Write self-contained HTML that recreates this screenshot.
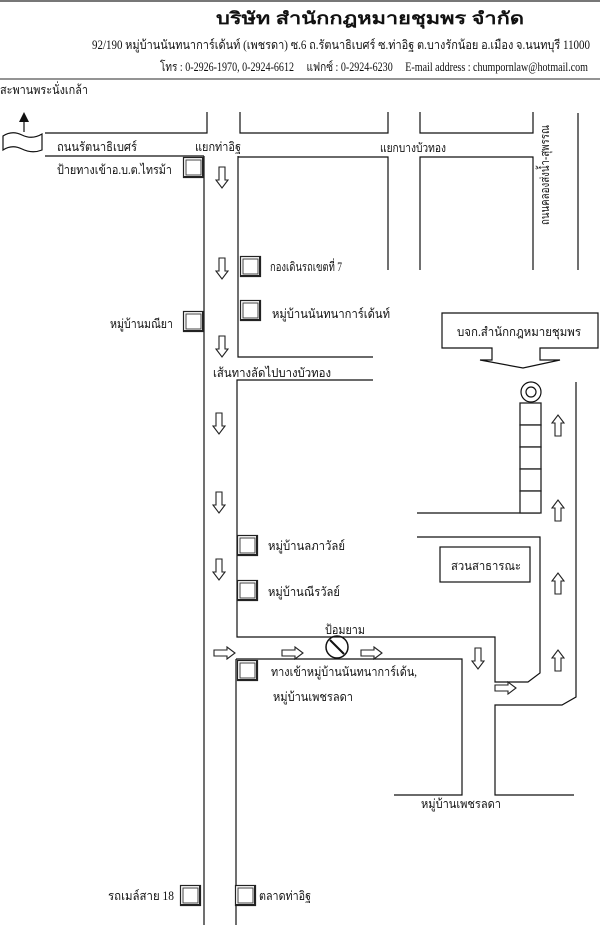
<!DOCTYPE html>
<html><head><meta charset="utf-8"><style>
html,body{margin:0;padding:0;background:#fff;}
svg{display:block;}
text{font-family:"Liberation Serif","DejaVu Serif","Noto Sans CJK SC",serif;fill:#111;}
.l{font-size:12.5px;}
</style></head><body>
<svg width="600" height="935" viewBox="0 0 600 935" xmlns="http://www.w3.org/2000/svg">
<defs>
<g id="sq"><rect x="0.5" y="0.5" width="20" height="20" fill="#fff" stroke="#222" stroke-width="1.2"/><rect x="3" y="3" width="15" height="15" fill="none" stroke="#444" stroke-width="1"/><path d="M1 20 H20 V1" stroke="#222" stroke-width="2" fill="none"/></g>
<path id="ad" d="M-3 0 H3 V13 H6 L0 21 L-6 13 H-3 Z" fill="#fff" stroke="#222" stroke-width="1.1"/>
<path id="au" d="M-3 21 H3 V8 H6 L0 0 L-6 8 H-3 Z" fill="#fff" stroke="#222" stroke-width="1.1"/>
<path id="ar" d="M0 -3 V3 H13 V6 L21 0 L13 -6 V-3 Z" fill="#fff" stroke="#222" stroke-width="1.1"/>
</defs>
<line x1="0" y1="1" x2="600" y2="1" stroke="#777" stroke-width="2"/>
<text x="370" y="24" text-anchor="middle" font-size="17" font-weight="bold" textLength="308" lengthAdjust="spacingAndGlyphs">บริษัท สำนักกฎหมายชุมพร จำกัด</text>
<text x="92" y="49" font-size="12.5" textLength="498" lengthAdjust="spacingAndGlyphs">92/190 หมู่บ้านนันทนาการ์เด้นท์ (เพชรดา) ซ.6 ถ.รัตนาธิเบศร์ ซ.ท่าอิฐ ต.บางรักน้อย อ.เมือง จ.นนทบุรี 11000</text>
<text x="160" y="71" font-size="12.5" textLength="428" lengthAdjust="spacingAndGlyphs">โทร : 0-2926-1970, 0-2924-6612&#160;&#160;&#160;&#160; แฟกซ์ : 0-2924-6230&#160;&#160;&#160;&#160; E-mail address : chumpornlaw@hotmail.com</text>
<line x1="0" y1="79" x2="600" y2="79" stroke="#555" stroke-width="1.3"/>
<text x="0" y="94" class="l" textLength="88" lengthAdjust="spacingAndGlyphs">สะพานพระนั่งเกล้า</text>
<g stroke="#111" stroke-width="1.2" fill="none">
<line x1="24" y1="132" x2="24" y2="120"/>
<path d="M3 136 Q12 130 22 135 T42 134 V150 Q32 154 22 149 T3 150 Z" fill="#fff"/>
<path d="M45 133 H207 V112"/>
<path d="M240 112 V133 H388 V112"/>
<path d="M420 112 V133 H533 V112"/>
<line x1="578" y1="113" x2="578" y2="270"/>
<path d="M45 156 H204"/>
<path d="M204 156 V925"/>
<path d="M238 156 V357 H373"/>
<path d="M238 157 H388 V270"/>
<path d="M420 270 V157 H533 V270"/>
<path d="M373 380 H237 V637 H495 V682 H528 L540 673 V537 H417"/>
<path d="M417 513 H540"/>
<path d="M576 382 V697 L562 705 H495 V795 H574"/>
<path d="M236 659 H462 V795 H394"/>
<path d="M236 659 V925"/>
<path d="M442 313 H598 V348 H540 V360 H560 L523 368 L480 360 H492 V348 H442 Z" fill="#fff"/>
<rect x="440" y="547" width="90" height="35" fill="#fff"/>
<circle cx="531" cy="392" r="10"/><circle cx="531" cy="392" r="5"/>
<circle cx="337" cy="647" r="11" stroke-width="1.5"/><line x1="330" y1="640" x2="344" y2="654" stroke-width="2"/>
</g>
<path d="M24 112 L19 122 H29 Z" fill="#111"/>
<g fill="#fff" stroke="#222" stroke-width="1.3">
<rect x="520" y="403" width="21" height="22"/><rect x="520" y="425" width="21" height="22"/><rect x="520" y="447" width="21" height="22"/><rect x="520" y="469" width="21" height="22"/><rect x="520" y="491" width="21" height="22"/>
</g>
<use href="#sq" x="183" y="157"/>
<use href="#sq" x="240" y="256"/>
<use href="#sq" x="240" y="300"/>
<use href="#sq" x="183" y="311"/>
<use href="#sq" x="237" y="535"/>
<use href="#sq" x="237" y="580"/>
<use href="#sq" x="237" y="660"/>
<use href="#sq" x="180" y="885"/>
<use href="#sq" x="235" y="885"/>
<use href="#ad" x="222" y="167"/><use href="#ad" x="222" y="258"/><use href="#ad" x="222" y="336"/>
<use href="#ad" x="219" y="413"/><use href="#ad" x="219" y="492"/><use href="#ad" x="219" y="559"/>
<use href="#ad" x="478" y="648"/>
<use href="#au" x="558" y="415"/><use href="#au" x="558" y="500"/><use href="#au" x="558" y="573"/><use href="#au" x="558" y="650"/>
<use href="#ar" x="214" y="653"/><use href="#ar" x="282" y="653"/><use href="#ar" x="361" y="653"/><use href="#ar" x="495" y="688"/>
<text x="57" y="151" class="l" textLength="80" lengthAdjust="spacingAndGlyphs">ถนนรัตนาธิเบศร์</text>
<text x="195" y="151" class="l" textLength="46" lengthAdjust="spacingAndGlyphs">แยกท่าอิฐ</text>
<text x="380" y="152" class="l" textLength="66" lengthAdjust="spacingAndGlyphs">แยกบางบัวทอง</text>
<text transform="translate(549,225) rotate(-90)" class="l" textLength="100" lengthAdjust="spacingAndGlyphs">ถนนคลองส่งน้ำ-สุพรรณ</text>
<text x="57" y="174" class="l" textLength="115" lengthAdjust="spacingAndGlyphs">ป้ายทางเข้าอ.บ.ต.ไทรม้า</text>
<text x="270" y="271" class="l" textLength="72" lengthAdjust="spacingAndGlyphs">กองเดินรถเขตที่ 7</text>
<text x="272" y="318" class="l" textLength="118" lengthAdjust="spacingAndGlyphs">หมู่บ้านนันทนาการ์เด้นท์</text>
<text x="110" y="328" class="l" textLength="63" lengthAdjust="spacingAndGlyphs">หมู่บ้านมณียา</text>
<text x="457" y="336" class="l" textLength="124" lengthAdjust="spacingAndGlyphs">บจก.สำนักกฎหมายชุมพร</text>
<text x="213" y="377" class="l" textLength="118" lengthAdjust="spacingAndGlyphs">เส้นทางลัดไปบางบัวทอง</text>
<text x="268" y="550" class="l" textLength="77" lengthAdjust="spacingAndGlyphs">หมู่บ้านลภาวัลย์</text>
<text x="268" y="596" class="l" textLength="72" lengthAdjust="spacingAndGlyphs">หมู่บ้านณีรวัลย์</text>
<text x="451" y="570" class="l" textLength="70" lengthAdjust="spacingAndGlyphs">สวนสาธารณะ</text>
<text x="325" y="634" class="l" textLength="40" lengthAdjust="spacingAndGlyphs">ป้อมยาม</text>
<text x="271" y="676" class="l" textLength="146" lengthAdjust="spacingAndGlyphs">ทางเข้าหมู่บ้านนันทนาการ์เด้น,</text>
<text x="273" y="701" class="l" textLength="80" lengthAdjust="spacingAndGlyphs">หมู่บ้านเพชรลดา</text>
<text x="421" y="808" class="l" textLength="80" lengthAdjust="spacingAndGlyphs">หมู่บ้านเพชรลดา</text>
<text x="108" y="900" class="l" textLength="66" lengthAdjust="spacingAndGlyphs">รถเมล์สาย 18</text>
<text x="259" y="900" class="l" textLength="52" lengthAdjust="spacingAndGlyphs">ตลาดท่าอิฐ</text>
</svg>
</body></html>
